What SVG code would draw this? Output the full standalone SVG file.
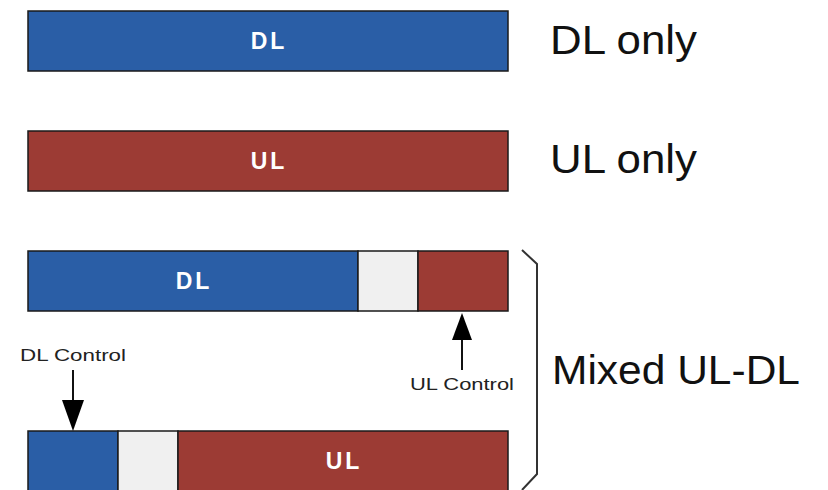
<svg xmlns="http://www.w3.org/2000/svg" width="828" height="490" viewBox="0 0 828 490">
<style>
.dl{fill:#2a5ea6;stroke:#1a1a1a;stroke-width:1.5}
.ul{fill:#9c3b34;stroke:#1a1a1a;stroke-width:1.5}
.gap{fill:#f0f0f0;stroke:#1a1a1a;stroke-width:1.5}
.in{font-family:"Liberation Sans",Arial,sans-serif;font-weight:bold;font-size:23px;fill:#fff;text-anchor:middle;letter-spacing:3px}
.big{font-family:"Liberation Sans",Arial,sans-serif;font-size:40px;fill:#111}
.small{font-family:"Liberation Sans",Arial,sans-serif;font-size:17px;fill:#222}
.conn{stroke:#111;stroke-width:2;fill:none}
.head{fill:#000}
</style>
<g id="row-dl">
<rect class="dl" x="28" y="11" width="480" height="60"/>
<text class="in" x="269" y="49">DL</text>
</g>
<text class="big" x="550" y="54" textLength="147" lengthAdjust="spacingAndGlyphs">DL only</text>
<g id="row-ul">
<rect class="ul" x="28" y="131" width="480" height="60"/>
<text class="in" x="269" y="169">UL</text>
</g>
<text class="big" x="550" y="173" textLength="147" lengthAdjust="spacingAndGlyphs">UL only</text>
<g id="row-mixed1">
<rect class="dl" x="28" y="251" width="330" height="60"/>
<rect class="gap" x="358" y="251" width="60" height="60"/>
<rect class="ul" x="418" y="251" width="90" height="60"/>
<text class="in" x="194" y="289">DL</text>
</g>
<g id="row-mixed2">
<rect class="dl" x="28" y="431" width="90" height="62"/>
<rect class="gap" x="118" y="431" width="60" height="62"/>
<rect class="ul" x="178" y="431" width="330" height="62"/>
<text class="in" x="344" y="469">UL</text>
</g>
<text class="small" x="20" y="361" textLength="106" lengthAdjust="spacingAndGlyphs">DL Control</text>
<text class="small" x="410" y="390" textLength="104" lengthAdjust="spacingAndGlyphs">UL Control</text>
<text class="big" x="552" y="384" textLength="248" lengthAdjust="spacingAndGlyphs">Mixed UL-DL</text>
<g id="connectors">
<line class="conn" x1="73" y1="370" x2="73" y2="402"/>
<path class="head" d="M62,400 L84,400 L73,431 z"/>
<line class="conn" x1="462" y1="370" x2="462" y2="338"/>
<path class="head" d="M452,340 L472,340 L462,313 z"/>
<path d="M522,250 L537,264 L537,474 L522,490" stroke="#333" stroke-width="2" fill="none"/>
</g>
</svg>
